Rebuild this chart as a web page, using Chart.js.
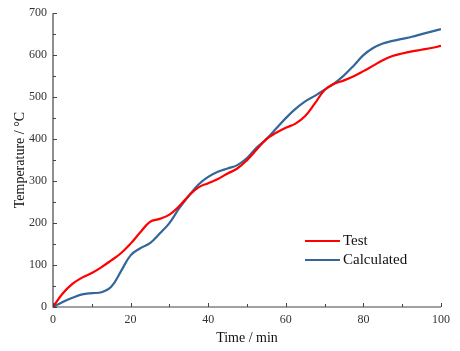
<!DOCTYPE html>
<html>
<head>
<meta charset="utf-8">
<script src="https://cdn.jsdelivr.net/npm/chart.js@4/dist/chart.umd.min.js"></script>
<style>
html,body{margin:0;padding:0;background:#fff;}
#wrap{width:460px;height:351px;position:relative;}
</style>
</head>
<body>
<div id="wrap"><canvas id="c" width="460" height="351"></canvas></div>
<script>
const timeMin = [0,2.5,5,7.5,10,12.5,15,17.5,20,22.5,25,27.5,30,32.5,35,37.5,40,42.5,45,47.5,50,52.5,55,57.5,60,62.5,65,67.5,70,72.5,75,77.5,80,82.5,85,87.5,90,92.5,95,97.5,100];
const testTemp = [0,32,55,70,81,95,111,128,151,178,203,210,220,240,265,285,295,305,318,330,350,375,400,415,427,437,455,485,517,532,540,550,562,575,588,598,604,609,613,617,622];
const calcTemp = [0,12,22,30,33,35,48,85,123,140,152,175,200,235,265,292,310,322,330,338,355,380,400,425,450,472,490,503,518,533,552,575,600,617,628,634,639,644,650,656,662];
const seriesNames = ['Test','Calculated'];
const xTicks = [0,20,40,60,80,100];
const yTicks = [0,100,200,300,400,500,600,700];

const FONT = '"Liberation Serif","DejaVu Serif",serif';
const AXIS = '#444';

const toPts = (ys) => timeMin.map((t,i)=>({x:t,y:ys[i]}));

const ticksPlugin = {
  id:'inTicks',
  afterDraw(chart){
    const ctx = chart.ctx, xs = chart.scales.x, ys = chart.scales.y, a = chart.chartArea;
    ctx.save();
    ctx.strokeStyle = AXIS; ctx.lineWidth = 1.2;
    ctx.beginPath();
    ctx.moveTo(a.left, a.top); ctx.lineTo(a.left, a.bottom); ctx.lineTo(a.right, a.bottom);
    ctx.stroke();
    ctx.lineWidth = 1;
    ctx.beginPath();
    for (let v=0; v<=100; v+=10){
      const p = Math.round(xs.getPixelForValue(v))+0.5;
      const L = (v%20===0)?4:3;
      ctx.moveTo(p, a.bottom); ctx.lineTo(p, a.bottom-L);
    }
    for (let v=0; v<=700; v+=50){
      const p = Math.round(ys.getPixelForValue(v))+0.5;
      const L = (v%100===0)?4:3;
      ctx.moveTo(a.left, p); ctx.lineTo(a.left+L, p);
    }
    ctx.stroke();
    // legend
    const ds = chart.data.datasets;
    ctx.font = '15px ' + FONT;
    ctx.textBaseline = 'middle';
    ctx.fillStyle = '#111';
    const lx = 305, ly = 241, gap = 19;
    ds.forEach((d,i)=>{
      const y = ly + i*gap;
      ctx.strokeStyle = d.borderColor; ctx.lineWidth = 2.2;
      ctx.beginPath(); ctx.moveTo(lx, y); ctx.lineTo(lx+35, y); ctx.stroke();
      ctx.fillText(d.label, lx+38, y);
    });
    ctx.restore();
  }
};

new Chart(document.getElementById('c'), {
  type:'line',
  data:{
    datasets:[
      {label:seriesNames[0], data:toPts(testTemp), borderColor:'#ff0000', borderWidth:2.2, pointRadius:0, tension:0.4, fill:false},
      {label:seriesNames[1], data:toPts(calcTemp), borderColor:'#336699', borderWidth:2.2, pointRadius:0, tension:0.4, fill:false}
    ]
  },
  options:{
    responsive:false, animation:false,
    layout:{padding:{left:8, top:12, right:19, bottom:0}},
    plugins:{legend:{display:false}, tooltip:{enabled:false}},
    scales:{
      x:{type:'linear', min:0, max:100,
        afterBuildTicks(s){ s.ticks = xTicks.map(v=>({value:v})); },
        afterFit(s){ s.height = 44; },
        grid:{display:false, drawTicks:false}, border:{display:false},
        ticks:{padding:6, color:'#333', font:{family:FONT, size:12}, maxRotation:0},
        title:{display:true, text:'Time / min', color:'#111', font:{family:FONT, size:14}, padding:{top:7}}
      },
      y:{type:'linear', min:0, max:700,
        afterBuildTicks(s){ s.ticks = yTicks.map(v=>({value:v})); },
        afterFit(s){ s.width = 45; },
        grid:{display:false, drawTicks:false}, border:{display:false},
        ticks:{padding:6, color:'#333', font:{family:FONT, size:12}},
        title:{display:true, text:'Temperature / \u00B0C', color:'#111', font:{family:FONT, size:14}, padding:{bottom:4}}
      }
    }
  },
  plugins:[ticksPlugin]
});
</script>
</body>
</html>
